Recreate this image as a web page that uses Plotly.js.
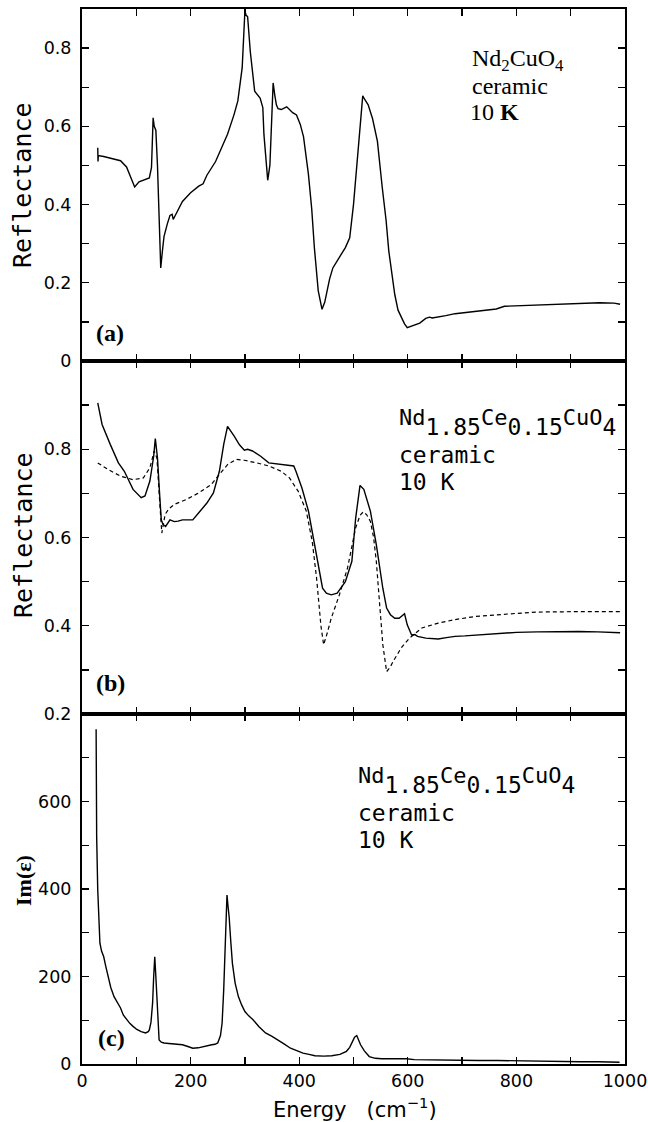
<!DOCTYPE html>
<html><head><meta charset="utf-8">
<script src="https://cdn.plot.ly/plotly-3.0.1.min.js"></script>
<style>html,body{margin:0;padding:0;background:#fff}</style>
</head><body>
<div id="chart" style="width:648px;height:1122px"></div>
<script>
// Panel (a): Nd2CuO4 reflectance
const Ea = [29,29.5,30,40,55,71,82,90,97,105,113,124,128,131,133,136,139,142,145,148,151,157,162,166,168,171,175,185,200,215,223,230,246,260,268,280,287,295,298,300,302,305,310,318,328,333,335,339,342,346,349,352,355,358,361,367,377,388,395,402,408,417,423,428,435,442,447,451,456,462,470,477,485,493,500,505,510,514,517,521,527,535,544,553,560,565,570,576,582,588,594,599,605,611,622,633,640,645,656,670,687,705,725,745,763,778,800,839,880,915,953,980,991];
const Ra = [0.545,0.51,0.525,0.523,0.518,0.512,0.496,0.47,0.445,0.458,0.462,0.468,0.495,0.622,0.60,0.59,0.50,0.35,0.238,0.28,0.318,0.35,0.372,0.375,0.362,0.37,0.382,0.408,0.43,0.447,0.453,0.475,0.51,0.555,0.58,0.63,0.665,0.75,0.82,0.895,0.885,0.88,0.79,0.69,0.672,0.648,0.58,0.52,0.462,0.50,0.60,0.711,0.68,0.655,0.645,0.643,0.65,0.635,0.629,0.605,0.573,0.477,0.39,0.289,0.18,0.132,0.15,0.179,0.21,0.238,0.258,0.272,0.29,0.315,0.40,0.48,0.579,0.64,0.678,0.668,0.655,0.62,0.562,0.443,0.36,0.281,0.23,0.17,0.13,0.111,0.095,0.085,0.088,0.09,0.097,0.109,0.112,0.11,0.112,0.116,0.121,0.124,0.127,0.13,0.133,0.14,0.141,0.143,0.146,0.148,0.149,0.148,0.145];

// Panel (b): Nd1.85Ce0.15CuO4 reflectance, measured (solid)
const Eb = [29,37,52,67,78,94,109,116,125,132,135,137,139,143,146,149,154,162,170,177,185,192,204,215,230,242,253,261,268,280,290,299,305,314,322,329,344,367,390,394,405,417,428,436,443,450,459,470,485,497,504,512,519,531,542,554,561,568,576,584,594,599,607,613,618,633,645,656,671,687,705,725,745,763,800,839,880,915,950,991];
const Rb = [0.905,0.856,0.811,0.769,0.75,0.709,0.69,0.694,0.728,0.784,0.824,0.80,0.78,0.697,0.64,0.63,0.625,0.64,0.636,0.637,0.64,0.64,0.64,0.656,0.678,0.701,0.75,0.811,0.852,0.83,0.81,0.798,0.80,0.796,0.79,0.784,0.769,0.765,0.762,0.75,0.712,0.66,0.584,0.531,0.485,0.474,0.47,0.474,0.50,0.546,0.644,0.718,0.709,0.66,0.584,0.485,0.44,0.425,0.417,0.417,0.427,0.402,0.379,0.38,0.376,0.372,0.371,0.37,0.373,0.376,0.377,0.379,0.381,0.383,0.385,0.386,0.387,0.387,0.386,0.384];

// Panel (b): model fit (dashed)
const EbFit = [29,48,71,94,113,125,133,138,143,147,153,160,170,192,215,238,253,268,284,299,322,344,367,382,398,413,424,432,440,445,452,459,474,489,504,512,518,524,531,537,542,548,554,561,567,573,588,603,626,656,687,725,763,800,839,880,915,991];
const RbFit = [0.769,0.754,0.739,0.731,0.735,0.758,0.796,0.78,0.682,0.61,0.652,0.665,0.675,0.686,0.701,0.72,0.743,0.765,0.777,0.775,0.769,0.762,0.75,0.735,0.705,0.66,0.591,0.508,0.40,0.357,0.385,0.417,0.47,0.531,0.622,0.65,0.658,0.652,0.637,0.60,0.546,0.45,0.357,0.296,0.305,0.319,0.35,0.372,0.395,0.406,0.414,0.421,0.425,0.428,0.431,0.432,0.432,0.432];

// Panel (c): Im(epsilon)
const Ec = [26,27,29,31,33,36,40,44,48,53,59,65,71,76,82,88,94,101,109,117,122,124,127,130,132,134,136,138,140,142,146,151,160,170,185,195,204,214,224,232,239,245,250,255,258,261,263,265,267,269,271,274,277,282,288,294,300,307,315,326,338,350,361,372,384,395,407,418,429,445,460,475,487,493,498,502,506,509,513,520,529,540,552,575,597,612,650,689,730,765,800,841,880,918,950,990];
const Ic = [765,520,397,320,276,258,245,222,200,175,154,140,128,112,101,93,86,79,74,71,74,78,95,139,200,245,200,154,95,55,50,48,47,46,44,40,36,37,40,43,44,45,48,65,93,170,230,320,386,360,336,280,230,185,154,135,120,110,101,85,71,63,55,46,36,30,25,22,19,18,19,22,29,38,52,61,65,56,44,30,17,13,12,12,12,10,9,8,8,8,7,6,6,5,5,4];

const xTickVals = [0,200,400,600,800,1000];
const yTitleA = "Reflectance", yTitleB = "Reflectance", yTitleC = "<b>Im(ε)</b>";
const xTitle = "Energy&nbsp;&nbsp;&nbsp;(cm<sup>−1</sup>)";

const L = 82, R = 625, T = 9, B = 1064;
const px = v => (v - L) / (R - L);
const py = v => (B - v) / (B - T);

const lineS = {color:'black', width:1.4};
const traces = [
  {x:Ea, y:Ra, xaxis:'x', yaxis:'y', mode:'lines', line:lineS},
  {x:Eb, y:Rb, xaxis:'x2', yaxis:'y2', mode:'lines', line:lineS},
  {x:EbFit, y:RbFit, xaxis:'x2', yaxis:'y2', mode:'lines', line:{color:'black', width:1.2, dash:'4px,3px'}},
  {x:Ec, y:Ic, xaxis:'x3', yaxis:'y3', mode:'lines', line:lineS}
];

const tickFont = {family:'DejaVu Sans', size:17.5, color:'black'};
function xax(anchor, labels){
  return {anchor:anchor, range:[0,1000], tickvals:xTickVals, ticks:'inside', ticklen:7, tickwidth:1.3, tickcolor:'black',
    showline:true, linewidth:2, linecolor:'black', mirror:'ticks', showgrid:false, zeroline:false,
    showticklabels:labels, tickfont:tickFont,
    minor:{dtick:100, tick0:0, ticks:'inside', ticklen:7, tickwidth:1.3, tickcolor:'black', showgrid:false}};
}
function yax(anchor, domain, range, dtick, mdtick){
  return {anchor:anchor, domain:domain, range:range, dtick:dtick, tick0:0, ticks:'inside', ticklen:7, tickwidth:1.3, tickcolor:'black',
    showline:true, linewidth:2, linecolor:'black', mirror:'ticks', showgrid:false, zeroline:false, tickfont:tickFont,
    ticklabelstandoff:5,
    minor:{dtick:mdtick, tick0:0, ticks:'inside', ticklen:7, tickwidth:1.3, tickcolor:'black', showgrid:false}};
}
const dA = [py(361), 1], dB = [py(714), py(361)], dC = [0, py(714)];

const monoF = {family:'DejaVu Sans Mono', size:23, color:'black'};
const serifF = {family:'Liberation Serif', size:24, color:'black'};
const chem = "<sup><span style='font-size:22px'>Nd</span></sup>1.85<sup><span style='font-size:22px'>Ce</span></sup>0.15<sup><span style='font-size:22px'>CuO</span></sup>4";
function ann(text, x, y, font, extra){
  return Object.assign({xref:'paper', yref:'paper', x:px(x), y:py(y), text:text, showarrow:false, xanchor:'left', yanchor:'middle', font:font}, extra||{});
}
const annotations = [
  ann("Nd<sub>2</sub>CuO<sub>4</sub>", 470, 60, serifF),
  ann("ceramic", 470, 86, serifF),
  ann("10 <b>K</b>", 468, 112, serifF),
  ann(chem, 397, 422, monoF),
  ann("ceramic", 397, 455, monoF),
  ann("10 K", 397, 482, monoF),
  ann(chem, 356, 780, monoF),
  ann("ceramic", 356, 813, monoF),
  ann("10 K", 356, 840, monoF),
  ann("<b>(a)</b>", 110, 333, {family:'Liberation Serif', size:24, color:'black'}, {xanchor:'center'}),
  ann("<b>(b)</b>", 110, 683, {family:'Liberation Serif', size:24, color:'black'}, {xanchor:'center'}),
  ann("<b>(c)</b>", 111, 1038, {family:'Liberation Serif', size:24, color:'black'}, {xanchor:'center'}),
  ann(yTitleA, 23, 185, {family:'DejaVu Sans Mono', size:25, color:'black'}, {xanchor:'center', textangle:-90}),
  ann(yTitleB, 23, 535, {family:'DejaVu Sans Mono', size:25, color:'black'}, {xanchor:'center', textangle:-90}),
  ann(yTitleC, 23, 881, {family:'Liberation Serif', size:22, color:'black'}, {xanchor:'center', textangle:-90}),
  ann(xTitle, 355, 1108, {family:'DejaVu Sans', size:21, color:'black'}, {xanchor:'center'})
];

const layout = {
  width:648, height:1122, showlegend:false,
  margin:{l:L, r:648-R, t:T, b:1122-B},
  paper_bgcolor:'white', plot_bgcolor:'white',
  xaxis: xax('y', false),
  xaxis2: xax('y2', false),
  xaxis3: xax('y3', true),
  yaxis: yax('x', dA, [0,0.9], 0.2, 0.1),
  yaxis2: yax('x2', dB, [0.2,0.9999], 0.2, 0.1),
  yaxis3: yax('x3', dC, [0,799.9], 200, 100),
  annotations: annotations
};
Plotly.newPlot('chart', traces, layout, {staticPlot:true, displayModeBar:false});
</script>
</body></html>
